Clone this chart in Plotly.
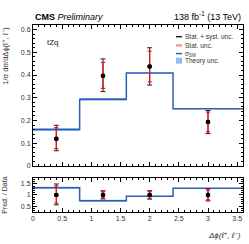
import plotly.graph_objects as go

# ---- data ----
bin_edges = [0.0, 0.8, 1.6, 2.4, 3.6]
x_centers = [0.4, 1.2, 2.0, 3.0]
data_y = [0.120, 0.397, 0.437, 0.193]
tot_up = [0.179, 0.471, 0.520, 0.244]
tot_dn = [0.067, 0.327, 0.356, 0.142]
stat_up = [0.169, 0.456, 0.505, 0.237]
stat_dn = [0.076, 0.341, 0.370, 0.150]
theory = [0.160, 0.293, 0.409, 0.252]
theory_unc = [0.006, 0.006, 0.002, 0.002]
ratio_pred = [1.32, 0.74, 0.94, 1.30]
ratio_unc = [0.045, 0.045, 0.015, 0.015]

FONT = "Liberation Sans"
LINE_BLUE = "#2f5fb5"
BAND_BLUE = "#8fbdf0"

def steps(vals):
    return bin_edges, list(vals) + [vals[-1]]

fig = go.Figure()

# Top panel theory band
up = [t + u for t, u in zip(theory, theory_unc)]
dn = [t - u for t, u in zip(theory, theory_unc)]
xs, ys = steps(dn)
fig.add_trace(go.Scatter(x=xs, y=ys, mode="lines", line=dict(width=0, shape="hv", color=BAND_BLUE),
                         showlegend=False, hoverinfo="skip", xaxis="x", yaxis="y"))
xs, ys = steps(up)
fig.add_trace(go.Scatter(x=xs, y=ys, mode="lines", line=dict(width=0, shape="hv", color=BAND_BLUE),
                         fill="tonexty", fillcolor=BAND_BLUE, showlegend=False, hoverinfo="skip",
                         xaxis="x", yaxis="y"))
xs, ys = steps(theory)
fig.add_trace(go.Scatter(x=xs, y=ys, mode="lines", line=dict(width=1.5, shape="hv", color=LINE_BLUE),
                         showlegend=False, hoverinfo="skip", xaxis="x", yaxis="y"))

# Data points top panel
fig.add_trace(go.Scatter(
    x=x_centers, y=data_y, mode="markers",
    marker=dict(color="black", size=4.5),
    error_y=dict(type="data", symmetric=False,
                 array=[u - d for u, d in zip(tot_up, data_y)],
                 arrayminus=[d - l for d, l in zip(data_y, tot_dn)],
                 color="#222222", thickness=1, width=2.5),
    showlegend=False, xaxis="x", yaxis="y"))
fig.add_trace(go.Scatter(
    x=x_centers, y=data_y, mode="markers",
    marker=dict(color="black", size=4.5),
    error_y=dict(type="data", symmetric=False,
                 array=[u - d for u, d in zip(stat_up, data_y)],
                 arrayminus=[d - l for d, l in zip(data_y, stat_dn)],
                 color="#e8161b", thickness=1.3, width=2),
    showlegend=False, xaxis="x", yaxis="y"))

# Ratio panel
r_up = [r + u for r, u in zip(ratio_pred, ratio_unc)]
r_dn = [r - u for r, u in zip(ratio_pred, ratio_unc)]
xs, ys = steps(r_dn)
fig.add_trace(go.Scatter(x=xs, y=ys, mode="lines", line=dict(width=0, shape="hv", color=BAND_BLUE),
                         showlegend=False, hoverinfo="skip", xaxis="x2", yaxis="y2"))
xs, ys = steps(r_up)
fig.add_trace(go.Scatter(x=xs, y=ys, mode="lines", line=dict(width=0, shape="hv", color=BAND_BLUE),
                         fill="tonexty", fillcolor=BAND_BLUE, showlegend=False, hoverinfo="skip",
                         xaxis="x2", yaxis="y2"))
xs, ys = steps(ratio_pred)
fig.add_trace(go.Scatter(x=xs, y=ys, mode="lines", line=dict(width=1.5, shape="hv", color=LINE_BLUE),
                         showlegend=False, hoverinfo="skip", xaxis="x2", yaxis="y2"))

ones = [1.0] * len(x_centers)
fig.add_trace(go.Scatter(
    x=x_centers, y=ones, mode="markers", marker=dict(color="black", size=4.5),
    error_y=dict(type="data", symmetric=False,
                 array=[(u - d) / d for u, d in zip(tot_up, data_y)],
                 arrayminus=[(d - l) / d for d, l in zip(data_y, tot_dn)],
                 color="#222222", thickness=1, width=2.5),
    showlegend=False, xaxis="x2", yaxis="y2"))
fig.add_trace(go.Scatter(
    x=x_centers, y=ones, mode="markers", marker=dict(color="black", size=4.5),
    error_y=dict(type="data", symmetric=False,
                 array=[(u - d) / d for u, d in zip(stat_up, data_y)],
                 arrayminus=[(d - l) / d for d, l in zip(data_y, stat_dn)],
                 color="#e8161b", thickness=1.3, width=2),
    showlegend=False, xaxis="x2", yaxis="y2"))

axis_common = dict(showline=True, linecolor="black", linewidth=1, mirror="allticks",
                   ticks="inside", ticklen=4, tickcolor="black", showgrid=False, zeroline=False,
                   tickfont=dict(family=FONT, size=7, color="#333"))

fig.update_layout(
    width=249, height=244,
    margin=dict(l=33, r=6, t=25, b=32),
    paper_bgcolor="white", plot_bgcolor="white",
    showlegend=False,
    xaxis=dict(domain=[0, 1], range=[0, 3.6], anchor="y", dtick=0.5, showticklabels=False,
               minor=dict(ticks="inside", ticklen=2, dtick=0.1, tickcolor="black"), **axis_common),
    yaxis=dict(domain=[0.246, 1], range=[0, 0.62], anchor="x", dtick=0.1,
               minor=dict(ticks="inside", ticklen=2, dtick=0.02, tickcolor="black"), **axis_common),
    xaxis2=dict(domain=[0, 1], range=[0, 3.6], anchor="y2", dtick=0.5, showticklabels=True,
                minor=dict(ticks="inside", ticklen=2, dtick=0.1, tickcolor="black"), **axis_common),
    yaxis2=dict(domain=[0, 0.182], range=[0.24, 1.76], anchor="x2", tickvals=[0.5, 1, 1.5],
                ticktext=["0.5", "1", "1.5"],
                minor=dict(ticks="inside", ticklen=2, dtick=0.1, tickcolor="black"), **axis_common),
)

ann = []
ann.append(dict(x=0, y=1, xref="paper", yref="paper", xanchor="left", yanchor="bottom", yshift=1,
                text="<b>CMS</b> <i>Preliminary</i>", showarrow=False,
                font=dict(family=FONT, size=9, color="black")))
ann.append(dict(x=1, y=1, xref="paper", yref="paper", xanchor="right", yanchor="bottom", yshift=1,
                text="138 fb<sup>-1</sup> (13 TeV)", showarrow=False,
                font=dict(family=FONT, size=9, color="black")))
ann.append(dict(x=0.057, y=0.909, xref="paper", yref="paper", xanchor="left", yanchor="middle",
                text="tZq", showarrow=False, font=dict(family=FONT, size=8, color="#222")))
ann.append(dict(x=-0.135, y=1.0, xref="paper", yref="paper", xanchor="center", yanchor="top",
                text="1/σ dσ/dΔϕ(ℓ<sup>+</sup>, ℓ<sup>−</sup>)", textangle=-90, showarrow=False,
                font=dict(family=FONT, size=7.5, color="#333")))
ann.append(dict(x=-0.135, y=0.09, xref="paper", yref="paper", xanchor="center", yanchor="middle",
                text="Pred. / Data", textangle=-90, showarrow=False,
                font=dict(family=FONT, size=7, color="#333")))
ann.append(dict(x=1, y=-0.085, xref="paper", yref="paper", xanchor="right", yanchor="top",
                text="<i>Δϕ(ℓ<sup>+</sup>, ℓ<sup>−</sup>)</i>", showarrow=False,
                font=dict(family=FONT, size=8, color="#333")))

legend_items = [
    ("Stat. + syst. unc.", 0.9375, "line", "#222222"),
    ("Stat. unc.", 0.891, "line", "#f49a9a"),
    ("σ<sub>SM</sub>", 0.847, "line", LINE_BLUE),
    ("Theory unc.", 0.809, "box", BAND_BLUE),
]
shapes = []
for label, yy, kind, col in legend_items:
    ann.append(dict(x=0.714, y=yy, xref="paper", yref="paper", xanchor="left", yanchor="middle",
                    text=label, showarrow=False, font=dict(family=FONT, size=6.5, color="#333")))
    if kind == "line":
        shapes.append(dict(type="line", xref="paper", yref="paper", x0=0.681, x1=0.71, y0=yy, y1=yy,
                           line=dict(color=col, width=1.5 if col != "#f49a9a" else 2.5)))
    else:
        shapes.append(dict(type="rect", xref="paper", yref="paper", x0=0.681, x1=0.71,
                           y0=yy - 0.016, y1=yy + 0.016, fillcolor=col, line=dict(width=0)))

fig.update_layout(annotations=ann, shapes=shapes)
fig.write_html("out.html", config={"displayModeBar": False},
               post_script="document.body.style.margin='0';document.body.style.padding='0';")
